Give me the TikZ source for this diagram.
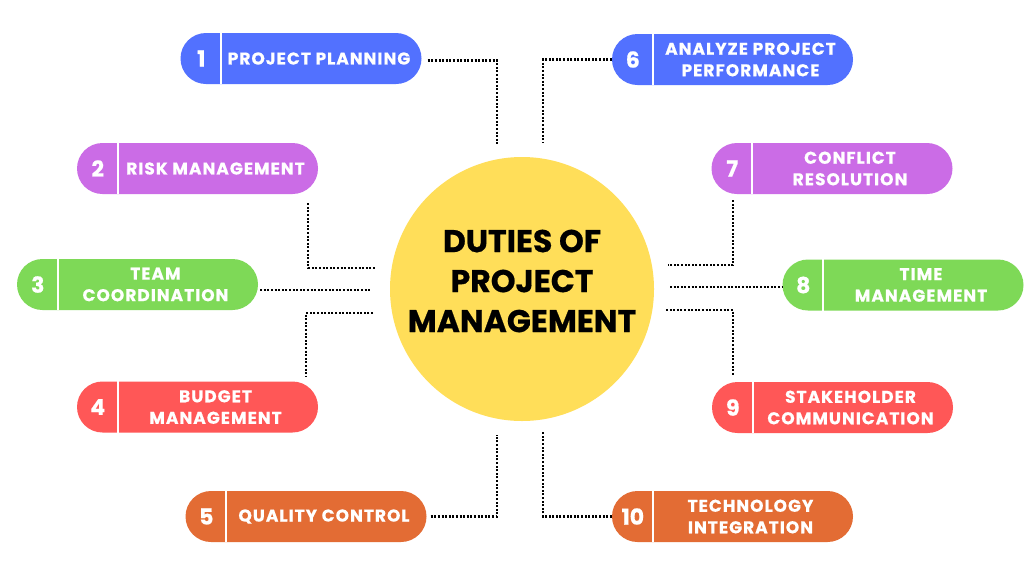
\documentclass[tikz,border=0pt]{standalone}
\usepackage{fontspec}
\setmainfont{Poppins}[BoldFeatures={FakeBold=0.6}]
\newfontfamily\pmspaced{Poppins}[LetterSpace=6,BoldFeatures={FakeBold=0.6}]
\definecolor{pmblue}{HTML}{5271FF}
\definecolor{pmpurple}{HTML}{CB6CE6}
\definecolor{pmgreen}{HTML}{7ED957}
\definecolor{pmred}{HTML}{FF5757}
\definecolor{pmorange}{HTML}{E36C34}
\definecolor{pmyellow}{HTML}{FFDE59}
\begin{document}
\begin{tikzpicture}[x=1pt,y=-1pt,
  pill/.style={fill=#1,rounded corners=25.5pt,minimum width=241pt,minimum height=51pt,inner sep=0pt},
  num/.style={text=white,font=\bfseries\fontsize{22}{22}\selectfont},
  lbl/.style={text=white,font=\pmspaced\bfseries\fontsize{17}{21.5}\selectfont,align=center,inner sep=0pt},
  link/.style={line width=2.2pt,dash pattern=on 2pt off 1.6pt}]
\useasboundingbox[fill=white] (0,0) rectangle (1024,576);
\node[circle,fill=pmyellow,minimum size=264pt,inner sep=0pt] (hub) at (522,289) {};
\node[font=\bfseries\fontsize{31.5}{40}\selectfont,align=center] (title) at (522,281) {DUTIES OF\\PROJECT\\MANAGEMENT};
\foreach \n/\x/\y/\c/\t in {
  1/301/58.5/pmblue/{PROJECT PLANNING},
  2/197.5/168.5/pmpurple/{RISK MANAGEMENT},
  3/137.5/284.5/pmgreen/{TEAM\\COORDINATION},
  4/197.5/407/pmred/{BUDGET\\MANAGEMENT},
  5/306/516.5/pmorange/{QUALITY CONTROL},
  6/732.5/59.5/pmblue/{ANALYZE PROJECT\\PERFORMANCE},
  7/832/168.5/pmpurple/{CONFLICT\\RESOLUTION},
  8/903/285/pmgreen/{TIME\\MANAGEMENT},
  9/832.5/407.5/pmred/{STAKEHOLDER\\COMMUNICATION},
  10/732.5/516.5/pmorange/{TECHNOLOGY\\INTEGRATION}} {
  \node[pill=\c] (b\n) at (\x,\y) {};
  \draw[white,line width=2pt] ([xshift=41pt]b\n.north west) -- ([xshift=41pt]b\n.south west);
  \node[num] (n\n) at ([xshift=21pt]b\n.west) {\n};
  \node[lbl] (t\n) at ([xshift=18pt]b\n.center) {\t};
}
\coordinate (e1) at (497,145);
\coordinate (e2) at (375,268);
\coordinate (e3) at (370,290);
\coordinate (e4) at (373,313);
\coordinate (e5) at (497,435);
\coordinate (e6) at (543,142);
\coordinate (e7) at (668,265);
\coordinate (e8) at (670,287);
\coordinate (e9) at (666,310);
\coordinate (e10) at (543,432);
\draw[link] ([xshift=6pt,yshift=-2pt]b1.east) -| (e1);
\draw[link] ([xshift=-10pt,yshift=-9pt]b2.south east) |- (e2);
\draw[link] ([xshift=2pt]e3 -| b3.east) -- (e3);
\draw[link] (e4) -| ([xshift=-12pt,yshift=4pt]b4.north east);
\draw[link] ([xshift=4pt]b5.east) -| (e5);
\draw[link] (b6.west) -| (e6);
\draw[link] ([xshift=22pt,yshift=-6pt]b7.south west) |- (e7);
\draw[link] (e8) -- (e8 -| b8.west);
\draw[link] (e9) -| ([xshift=21pt,yshift=6pt]b9.north west);
\draw[link] (b10.west) -| (e10);
\end{tikzpicture}
\end{document}
